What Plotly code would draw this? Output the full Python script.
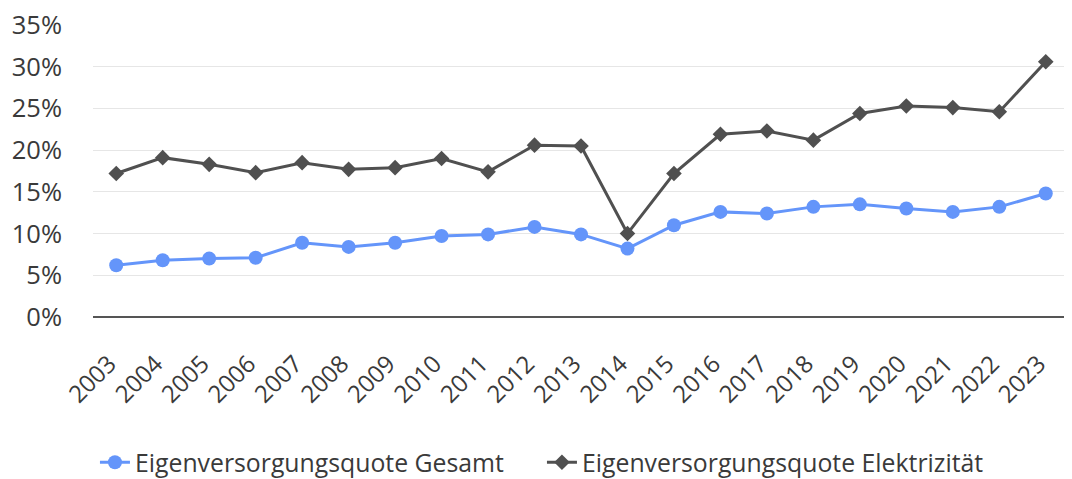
import plotly.graph_objects as go

years = [str(y) for y in range(2003, 2024)]
gesamt = [6.2, 6.8, 7.0, 7.1, 8.9, 8.4, 8.9, 9.7, 9.9, 10.8, 9.9, 8.2, 11.0, 12.6, 12.4, 13.2, 13.5, 13.0, 12.6, 13.2, 14.8]
elektrizitaet = [17.2, 19.1, 18.3, 17.3, 18.5, 17.7, 17.9, 19.0, 17.4, 20.6, 20.5, 10.0, 17.2, 21.9, 22.3, 21.2, 24.4, 25.3, 25.1, 24.6, 30.6]
y_ticks = [0, 5, 10, 15, 20, 25, 30, 35]
y_labels = [f"{v}%" for v in y_ticks]

font_family = "'Open Sans', sans-serif"
text_color = "#3a3a3a"

fig = go.Figure()
fig.add_trace(go.Scatter(
    x=years, y=gesamt, mode="lines+markers",
    name="Eigenversorgungsquote Gesamt",
    line=dict(color="#6495FA", width=3),
    marker=dict(symbol="circle", size=14, color="#6495FA"),
))
fig.add_trace(go.Scatter(
    x=years, y=elektrizitaet, mode="lines+markers",
    name="Eigenversorgungsquote Elektrizität",
    line=dict(color="#505050", width=3),
    marker=dict(symbol="diamond", size=12, color="#505050"),
))

# page body has an 8px default margin, so offsets are compensated here
fig.update_layout(
    width=1064, height=487,
    margin=dict(l=85, r=3, t=16, b=178),
    paper_bgcolor="white", plot_bgcolor="white",
    font=dict(family=font_family, color=text_color),
    showlegend=True,
    legend=dict(orientation="h", x=0.46, xanchor="center", y=-0.497, yanchor="middle",
                font=dict(size=24.8, color=text_color), tracegroupgap=0,
                entrywidth=402, entrywidthmode="pixels"),
    xaxis=dict(type="category", range=[-0.5, 20.5], automargin=False,
               tickangle=-45, tickfont=dict(size=24, color=text_color),
               showgrid=False, showline=False, ticks="", zeroline=False,
               ticklabelstandoff=27, ticklabelshift=-7),
    yaxis=dict(range=[0, 35.12], tickvals=y_ticks, ticktext=y_labels, automargin=False,
               tickfont=dict(size=25.5, color=text_color), ticklabeloverflow="allow",
               showgrid=True, gridcolor="#e6e6e6", gridwidth=1,
               zeroline=True, zerolinecolor="#555555", zerolinewidth=2,
               showline=False, ticks="", ticklabelstandoff=30),
)

fig.write_html("out.html")
